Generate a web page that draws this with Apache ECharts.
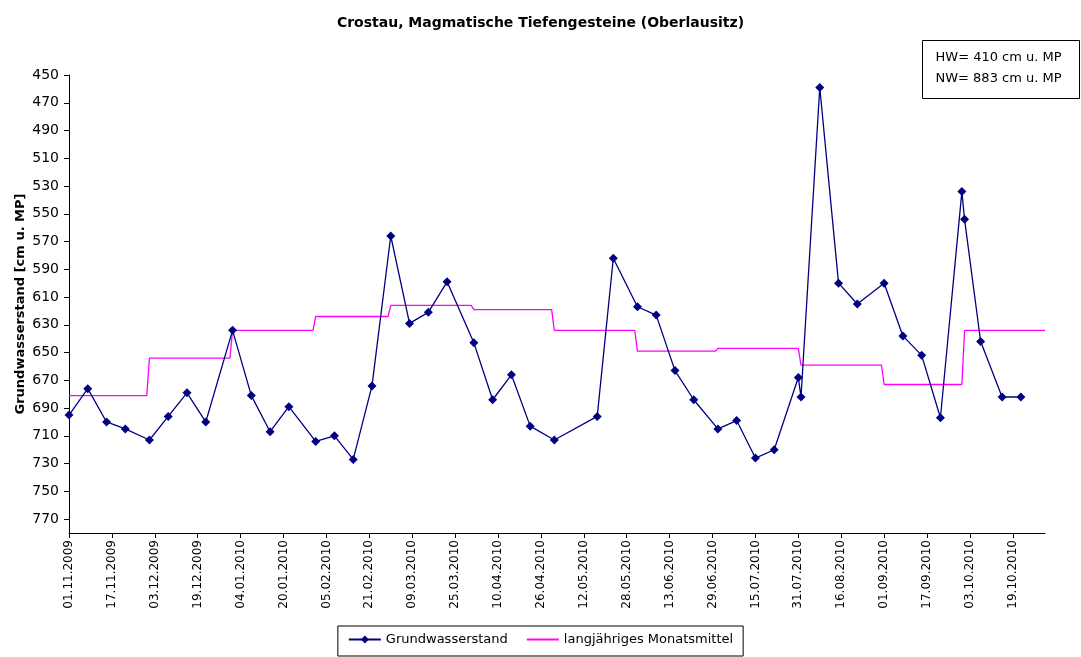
<!DOCTYPE html>
<html>
<head>
<meta charset="utf-8">
<script src="https://cdn.jsdelivr.net/npm/echarts@6/dist/echarts.min.js"></script>
<style>
  html, body { margin: 0; padding: 0; background: #fff; }
  #main { width: 1081px; height: 657px; }
</style>
</head>
<body>
<div id="main"></div>
<script>
// Messdaten Grundwasserstand (cm u. MP)
const messDatum = [
  '2009-11-01', '2009-11-08', '2009-11-15', '2009-11-22', '2009-12-01', '2009-12-08', '2009-12-15', '2009-12-22',
  '2010-01-01', '2010-01-08', '2010-01-15', '2010-01-22', '2010-02-01', '2010-02-08', '2010-02-15', '2010-02-22',
  '2010-03-01', '2010-03-08', '2010-03-15', '2010-03-22', '2010-04-01', '2010-04-08', '2010-04-15', '2010-04-22',
  '2010-05-01', '2010-05-17', '2010-05-23', '2010-06-01', '2010-06-08', '2010-06-15', '2010-06-22', '2010-07-01',
  '2010-07-08', '2010-07-15', '2010-07-22', '2010-07-31', '2010-08-01', '2010-08-08', '2010-08-15', '2010-08-22',
  '2010-09-01', '2010-09-08', '2010-09-15', '2010-09-22', '2010-09-30', '2010-10-01', '2010-10-07', '2010-10-15',
  '2010-10-22'
];
const grundwasser = [
  695, 676, 700, 705, 713, 696, 679, 700,
  634, 681, 707, 689, 714, 710, 727, 674,
  566, 629, 621, 599, 643, 684, 666, 703,
  713, 696, 582, 617, 623, 663, 684, 705,
  699, 726, 720, 668, 682, 459, 600, 615,
  600, 638, 652, 697, 534, 554, 642, 682,
  682
];

// langjähriges Monatsmittel
const monatsBeginn = [
  '2009-11-01', '2009-12-01', '2010-01-01', '2010-02-01', '2010-03-01', '2010-04-01',
  '2010-05-01', '2010-06-01', '2010-07-01', '2010-08-01', '2010-09-01', '2010-10-01', '2010-11-01'
];
const monatsMittel = [681, 654, 634, 624, 616, 619, 634, 649, 647, 659, 673, 634];

// Achsen
const xTicks = [
  '2009-11-01', '2009-11-17', '2009-12-03', '2009-12-19', '2010-01-04', '2010-01-20', '2010-02-05', '2010-02-21',
  '2010-03-09', '2010-03-25', '2010-04-10', '2010-04-26', '2010-05-12', '2010-05-28', '2010-06-13', '2010-06-29',
  '2010-07-15', '2010-07-31', '2010-08-16', '2010-09-01', '2010-09-17', '2010-10-03', '2010-10-19'
];
const yTicks = [450, 470, 490, 510, 530, 550, 570, 590, 610, 630, 650, 670, 690, 710, 730, 750, 770];
const xStart = '2009-11-01';
const xEnd = '2010-10-31';

const schrift = 'DejaVu Sans, Liberation Sans, Arial, sans-serif';

// Tage seit Start
function dayOf(s) {
  let p = s.split('-');
  let q = xStart.split('-');
  return Math.round((Date.UTC(+p[0], p[1] - 1, +p[2]) - Date.UTC(+q[0], q[1] - 1, +q[2])) / 86400000);
}
function fmtDay(d) {
  let q = xStart.split('-');
  let dt = new Date(Date.UTC(+q[0], q[1] - 1, +q[2]) + d * 86400000);
  let dd = String(dt.getUTCDate()).padStart(2, '0');
  let mm = String(dt.getUTCMonth() + 1).padStart(2, '0');
  return dd + '.' + mm + '.' + dt.getUTCFullYear();
}

let gwData = messDatum.map((d, i) => [dayOf(d), grundwasser[i]]);
let mittelData = [];
monatsMittel.forEach((v, i) => {
  let a = dayOf(monatsBeginn[i]);
  let b = Math.min(dayOf(monatsBeginn[i + 1]) - 1, dayOf(xEnd));
  mittelData.push([a, v]);
  mittelData.push([b, v]);
});

let chart = echarts.init(document.getElementById('main'));

let option = {
  animation: false,
  textStyle: { fontFamily: schrift },
  title: {
    text: 'Crostau, Magmatische Tiefengesteine (Oberlausitz)',
    left: 'center',
    top: 11,
    textStyle: { fontSize: 14, fontWeight: 'bold', color: '#000', fontFamily: schrift }
  },
  grid: { left: 69, right: 36, top: 75, bottom: 124 },
  legend: {
    left: 'center',
    top: 626,
    padding: [7, 10, 10, 10],
    itemGap: 18,
    itemWidth: 32,
    itemHeight: 10,
    borderColor: '#000',
    borderWidth: 1,
    textStyle: { fontSize: 13, color: '#000', fontFamily: schrift },
    data: [
      { name: 'Grundwasserstand' },
      { name: 'langjähriges Monatsmittel', itemStyle: { opacity: 0 } }
    ]
  },
  xAxis: {
    type: 'value',
    min: 0,
    max: dayOf(xEnd),
    axisLine: { lineStyle: { color: '#000' } },
    axisTick: { length: 5, customValues: xTicks.map(dayOf), lineStyle: { color: '#000' } },
    splitLine: { show: false },
    axisLabel: {
      customValues: xTicks.map(dayOf),
      rotate: 90,
      margin: 7,
      fontSize: 12,
      color: '#000',
      fontFamily: schrift,
      formatter: v => fmtDay(v)
    }
  },
  yAxis: {
    type: 'value',
    inverse: true,
    min: 450,
    max: 780,
    name: 'Grundwasserstand [cm u. MP]',
    nameLocation: 'middle',
    nameGap: 42,
    nameMoveOverlap: false,
    nameTextStyle: { fontSize: 13, fontWeight: 'bold', color: '#000', fontFamily: schrift },
    axisLine: { show: true, lineStyle: { color: '#000' } },
    axisTick: { show: true, length: 5, customValues: yTicks, lineStyle: { color: '#000' } },
    splitLine: { show: false },
    axisLabel: { customValues: yTicks, margin: 10, fontSize: 14, color: '#000', fontFamily: schrift }
  },
  graphic: [
    {
      type: 'group',
      left: 922,
      top: 40,
      children: [
        { type: 'rect', shape: { x: 0, y: 0, width: 157, height: 58 }, style: { fill: '#fff', stroke: '#000', lineWidth: 1 } },
        { type: 'text', x: 13, y: 11, style: { text: 'HW= 410 cm u. MP', fontSize: 13, fill: '#000', fontFamily: schrift } },
        { type: 'text', x: 13, y: 32, style: { text: 'NW= 883 cm u. MP', fontSize: 13, fill: '#000', fontFamily: schrift } }
      ]
    }
  ],
  series: [
    {
      name: 'Grundwasserstand',
      type: 'line',
      data: gwData,
      symbol: 'diamond',
      symbolSize: 9,
      itemStyle: { color: '#000080' },
      lineStyle: { color: '#000080', width: 1.3 },
      z: 3
    },
    {
      name: 'langjähriges Monatsmittel',
      type: 'line',
      data: mittelData,
      showSymbol: false,
      symbol: 'none',
      itemStyle: { color: '#ff00ff' },
      lineStyle: { color: '#ff00ff', width: 1.3 },
      z: 2
    }
  ]
};

chart.setOption(option);
</script>
</body>
</html>
